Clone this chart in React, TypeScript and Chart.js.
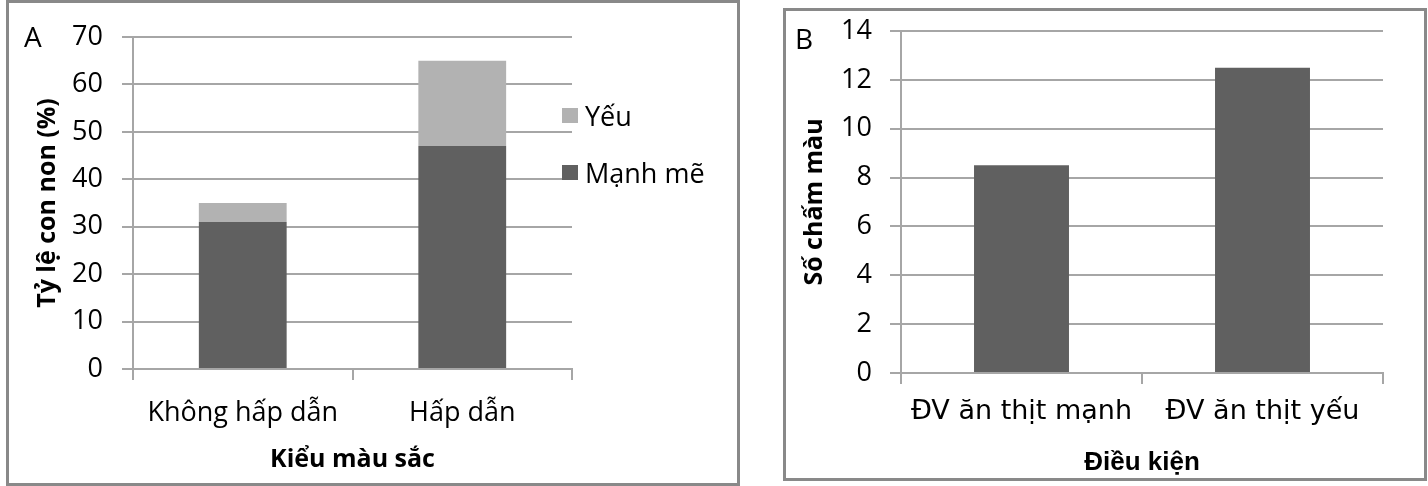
import { useEffect, useRef } from 'react'
import { Chart, registerables } from 'chart.js'

Chart.register(...registerables)

// Panel A data
const categoriesA = ['Không hấp dẫn', 'Hấp dẫn']
const seriesNamesA = ['Mạnh mẽ', 'Yếu']
const strongA = [31, 47]
const weakA = [4, 18]
const yMaxA = 70
const yStepA = 10

// Panel B data
const categoriesB = ['ĐV ăn thịt mạnh', 'ĐV ăn thịt yếu']
const spotsB = [8.5, 12.5]
const yMaxB = 14
const yStepB = 2

const DARK = '#606060'
const LIGHT = '#b2b2b2'
const GRID = '#a6a6a6'
const CALIBRI = '"Open Sans", "Noto Sans", sans-serif'
const ARIAL = '"Liberation Sans", Arial, sans-serif'
const WIDE = '"DejaVu Sans", sans-serif'

// tick labels stay where we put them, no extra top/bottom padding
const fixY = (w: number) => (s: any) => {
  s.width = w
  s.paddingTop = 0
  s.paddingBottom = 0
}

function ChartA() {
  const chartRef = useRef<HTMLCanvasElement>(null)
  const chartInstance = useRef<Chart | null>(null)

  useEffect(() => {
    if (!chartRef.current) return
    if (chartInstance.current) chartInstance.current.destroy()

    chartInstance.current = new Chart(chartRef.current, {
      type: 'bar',
      data: {
        labels: categoriesA,
        datasets: [
          { label: seriesNamesA[0], data: strongA, backgroundColor: DARK },
          { label: seriesNamesA[1], data: weakA, backgroundColor: LIGHT }
        ]
      },
      options: {
        responsive: false,
        animation: false,
        devicePixelRatio: 1,
        layout: { padding: { left: 0, top: 34, right: 165, bottom: 0 } },
        datasets: { bar: { categoryPercentage: 1, barPercentage: 0.4 } },
        plugins: { legend: { display: false }, tooltip: { enabled: false } },
        scales: {
          x: {
            stacked: true,
            afterFit: (s: any) => { s.height = 114 },
            grid: { display: true, drawOnChartArea: false, drawTicks: true, tickLength: 11, offset: true, color: GRID, lineWidth: 2 },
            border: { display: true, color: GRID, width: 2 },
            ticks: { color: '#000', padding: 17, font: { family: CALIBRI, size: 27 } },
            title: { display: true, text: 'Kiểu màu sắc', color: '#000', padding: { top: 0, bottom: 8 }, font: { family: CALIBRI, size: 25, weight: 'bold' } }
          },
          y: {
            stacked: true,
            min: 0,
            max: yMaxA,
            afterFit: fixY(124),
            grid: { color: GRID, lineWidth: 2, drawTicks: true, tickLength: 11 },
            border: { display: true, color: GRID, width: 2 },
            ticks: { stepSize: yStepA, color: '#000', padding: 19, font: { family: CALIBRI, size: 27 } },
            title: { display: true, text: 'Tỷ lệ con non (%)', color: '#000', padding: { top: 24, bottom: 0 }, font: { family: CALIBRI, size: 25, weight: 'bold' } }
          }
        }
      }
    })

    return () => {
      if (chartInstance.current) {
        chartInstance.current.destroy()
        chartInstance.current = null
      }
    }
  }, [])

  return <canvas ref={chartRef} width={728} height={480} style={{ position: 'absolute', left: 0, top: 0, width: 728, height: 480 }} />
}

function ChartB() {
  const chartRef = useRef<HTMLCanvasElement>(null)
  const chartInstance = useRef<Chart | null>(null)

  useEffect(() => {
    if (!chartRef.current) return
    if (chartInstance.current) chartInstance.current.destroy()

    chartInstance.current = new Chart(chartRef.current, {
      type: 'bar',
      data: {
        labels: categoriesB,
        datasets: [{ label: 'Số chấm màu', data: spotsB, backgroundColor: DARK }]
      },
      options: {
        responsive: false,
        animation: false,
        devicePixelRatio: 1,
        layout: { padding: { left: 0, top: 20, right: 41, bottom: 0 } },
        datasets: { bar: { categoryPercentage: 1, barPercentage: 0.394 } },
        plugins: { legend: { display: false }, tooltip: { enabled: false } },
        scales: {
          x: {
            afterFit: (s: any) => { s.height = 105 },
            grid: { display: true, drawOnChartArea: false, drawTicks: true, tickLength: 11, offset: true, color: GRID, lineWidth: 2 },
            border: { display: true, color: GRID, width: 2 },
            ticks: { color: '#000', padding: 12, font: { family: WIDE, size: 27 } },
            title: { display: true, text: 'Điều kiện', color: '#000', padding: { top: 0, bottom: 0 }, font: { family: ARIAL, size: 26, weight: 'bold' } }
          },
          y: {
            min: 0,
            max: yMaxB,
            afterFit: fixY(115),
            grid: { color: GRID, lineWidth: 2, drawTicks: true, tickLength: 11 },
            border: { display: true, color: GRID, width: 2 },
            ticks: { stepSize: yStepB, color: '#000', padding: 18, font: { family: CALIBRI, size: 27 } },
            title: { display: true, text: 'Số chấm màu', color: '#000', padding: { top: 14, bottom: 0 }, font: { family: CALIBRI, size: 25, weight: 'bold' } }
          }
        }
      }
    })

    return () => {
      if (chartInstance.current) {
        chartInstance.current.destroy()
        chartInstance.current = null
      }
    }
  }, [])

  return <canvas ref={chartRef} width={638} height={467} style={{ position: 'absolute', left: 0, top: 0, width: 638, height: 467 }} />
}

const panelBox = (left: number, top: number, width: number, height: number): React.CSSProperties => ({
  position: 'absolute',
  left,
  top,
  width,
  height,
  boxSizing: 'border-box',
  border: '3px solid #898989',
  background: '#fff'
})

const letterStyle = (left: number, top: number): React.CSSProperties => ({
  position: 'absolute',
  left,
  top,
  fontFamily: CALIBRI,
  fontSize: 28,
  lineHeight: '32px',
  color: '#000'
})

export default function App() {
  const legendItems = [
    { name: seriesNamesA[1], color: LIGHT, top: 115 },
    { name: seriesNamesA[0], color: DARK, top: 172 }
  ]

  return (
    <div style={{ position: 'absolute', left: 0, top: 0, width: 1428, height: 486, background: '#fff', overflow: 'hidden' }}>
      <div style={panelBox(6, 0, 734, 486)}>
        <ChartA />
      </div>
      {legendItems.map((item) => (
        <div key={item.name} style={{ position: 'absolute', left: 562, top: item.top - 18, height: 36, display: 'flex', alignItems: 'center', fontFamily: CALIBRI, fontSize: 27, color: '#000' }}>
          <span style={{ display: 'inline-block', width: 16, height: 15, background: item.color, marginRight: 7 }} />
          <span>{item.name}</span>
        </div>
      ))}
      <div style={letterStyle(24, 20)}>A</div>

      <div style={panelBox(783, 8, 644, 473)}>
        <ChartB />
      </div>
      <div style={letterStyle(795, 22)}>B</div>
    </div>
  )
}
